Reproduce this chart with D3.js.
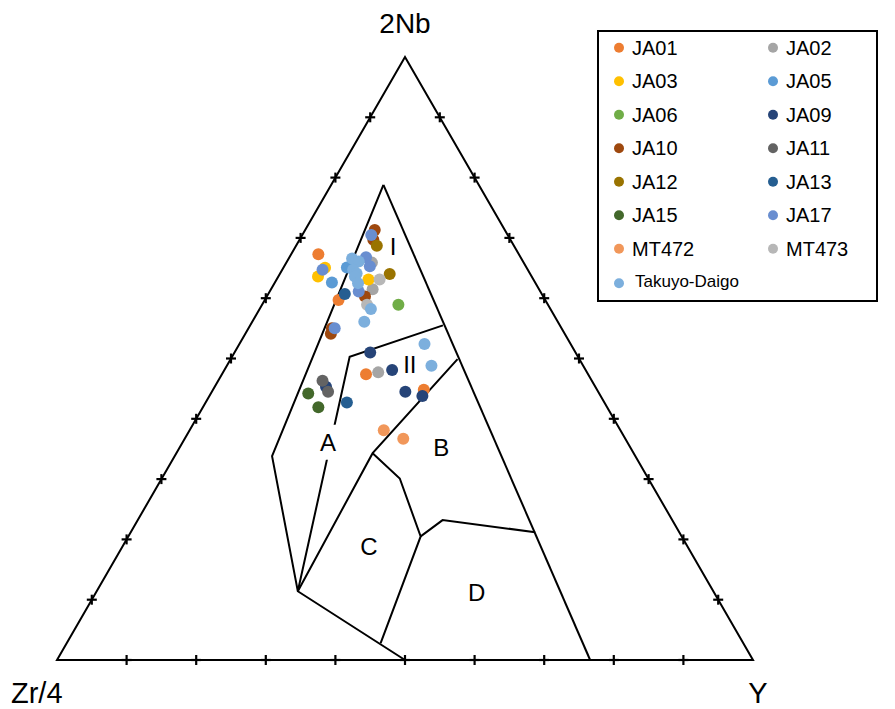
<!DOCTYPE html>
<html>
<head>
<meta charset="utf-8">
<script src="https://cdn.jsdelivr.net/npm/d3@7/dist/d3.min.js"></script>
<style>
  html, body { margin: 0; padding: 0; background: #fff; }
  svg { display: block; }
  text { font-family: "Liberation Sans", Arial, sans-serif; fill: #000; }
</style>
</head>
<body>
<svg id="chart" width="895" height="709"></svg>
<script>
// Meschede (1986) 2Nb – Zr/4 – Y discrimination diagram.
// Every sample is [2Nb, Zr/4, Y] in percent.

const seriesNames = ["JA01", "JA02", "JA03", "JA05", "JA06", "JA09", "JA10", "JA11",
                     "JA12", "JA13", "JA15", "JA17", "MT472", "MT473", "Takuyo-Daigo"];
const seriesColors = ["#ED7D31", "#A5A5A5", "#FFC000", "#5B9BD5", "#70AD47", "#264478", "#9E480E", "#636363",
                      "#997300", "#255E91", "#43682B", "#698ED0", "#F1975A", "#B7B7B7", "#7CAFDD"];

const JA01 = [[67.3, 28.8, 3.9], [59.7, 29.7, 10.6], [47.4, 31.9, 20.7], [44.8, 24.9, 30.3]];
const JA02 = [[65.9, 21.8, 12.3], [61.5, 23.9, 14.6], [47.7, 30.0, 22.3]];
const JA03 = [[65.1, 29.0, 6.0], [63.6, 30.7, 5.7], [63.1, 23.7, 13.2]];
const JA05 = [[62.6, 29.2, 8.2], [65.1, 25.8, 9.1]];
const JA06 = [[58.9, 21.5, 19.6]];
const JA09 = [[51.0, 29.5, 19.5], [48.1, 27.8, 24.1], [45.3, 38.7, 16.0], [44.5, 27.7, 27.8], [43.8, 25.6, 30.6]];
const JA10 = [[71.3, 18.7, 10.0], [69.7, 19.7, 10.6], [60.3, 25.6, 14.1], [55.0, 33.0, 12.0], [54.1, 33.6, 12.3]];
const JA11 = [[46.3, 38.7, 15.0], [44.5, 38.8, 16.7]];
const JA12 = [[68.7, 19.7, 11.6], [64.0, 20.2, 15.8]];
const JA13 = [[60.7, 28.3, 11.0], [42.7, 37.0, 20.3]];
const JA15 = [[44.2, 41.8, 14.0], [41.9, 41.5, 16.6]];
const JA17 = [[70.5, 19.6, 9.9], [66.8, 22.2, 11.0], [65.3, 22.4, 12.3], [64.7, 29.5, 5.8], [61.1, 26.1, 12.8], [55.0, 32.6, 12.4]];
const MT472 = [[38.1, 34.0, 27.9], [36.7, 31.9, 31.4]];
const MT473 = [[63.1, 22.1, 14.8], [58.9, 26.0, 15.1]];
const TakuyoDaigo = [[66.6, 24.3, 9.1], [66.1, 23.6, 10.3], [64.7, 25.1, 10.2], [64.1, 24.9, 11.0],
                     [63.6, 25.4, 11.0], [62.5, 25.5, 12.0], [58.2, 25.8, 16.0], [56.1, 27.8, 16.1],
                     [52.4, 21.0, 26.6], [48.8, 21.8, 29.4]];
const seriesData = [JA01, JA02, JA03, JA05, JA06, JA09, JA10, JA11, JA12, JA13, JA15, JA17, MT472, MT473, TakuyoDaigo];

// Field boundaries (polylines), vertices as [2Nb, Zr/4, Y] percent
const fieldLines = [
  [[78.8, 13.7, 7.5], [33.8, 52.2, 14.0], [11.4, 59.7, 28.9], [0, 50, 50]],
  [[78.8, 13.7, 7.5], [0, 23.4, 76.6]],
  [[55.5, 16.8, 27.7], [50.3, 32.8, 16.9], [11.4, 59.7, 28.9]],
  [[49.9, 17.5, 32.6], [34.3, 37.5, 28.2], [11.4, 59.7, 28.9]],
  [[34.3, 37.5, 28.2], [30.1, 35.7, 34.2], [20.5, 37.5, 42.0], [2.8, 52.1, 45.1]],
  [[20.5, 37.5, 42.0], [23.2, 33.0, 43.8], [21.2, 20.7, 58.1]]
];
// Field labels with their anchor positions [2Nb, Zr/4, Y] (baseline centre)
const fieldLabels = ["I", "II", "A", "B", "C", "D"];
const fieldLabelPos = [[67.2, 18.1, 14.7], [47.6, 25.5, 26.9], [34.7, 43.7, 21.6],
                       [33.8, 27.9, 38.3], [17.4, 46.5, 36.1], [9.8, 34.8, 55.4]];

const tickSteps = [10, 20, 30, 40, 50, 60, 70, 80, 90];
const apexLabels = ["2Nb", "Zr/4", "Y"];

const svg = d3.select("#chart");

// Ternary projection: horizontal position from Y + Nb/2, vertical from Nb
const xScale = d3.scaleLinear().domain([0, 100]).range([57, 753]);
const yScale = d3.scaleLinear().domain([0, 100]).range([660, 57]);
function project(p) {
  const s = p[0] + p[1] + p[2];
  const nb = p[0] / s * 100, yv = p[2] / s * 100;
  return [xScale(yv + nb / 2), yScale(nb)];
}
const line = d3.line().x(d => project(d)[0]).y(d => project(d)[1]);

const g = svg.append("g");

// Outer triangle
g.append("path")
  .attr("d", line([[100, 0, 0], [0, 100, 0], [0, 0, 100]]) + "Z")
  .attr("fill", "none").attr("stroke", "#000").attr("stroke-width", 2)
  .attr("stroke-linejoin", "miter");

// Tick crosses on the three sides
const tickPts = [];
tickSteps.forEach(t => {
  tickPts.push([0, 100 - t, t]);      // base
  tickPts.push([t, 100 - t, 0]);      // left side
  tickPts.push([t, 0, 100 - t]);      // right side
});
const tg = g.append("g").attr("stroke", "#000").attr("stroke-width", 2.2);
tickPts.forEach(p => {
  const [px, py] = project(p);
  tg.append("line").attr("x1", px - 5).attr("x2", px + 5).attr("y1", py).attr("y2", py);
  tg.append("line").attr("x1", px).attr("x2", px).attr("y1", py - 5).attr("y2", py + 5);
});

// Field boundaries
g.append("g").selectAll("path").data(fieldLines).join("path")
  .attr("d", d => line(d))
  .attr("fill", "none").attr("stroke", "#000").attr("stroke-width", 2)
  .attr("stroke-linejoin", "miter");

// Field labels (the A boundary breaks around its letter)
const lg = g.append("g");
fieldLabels.forEach((lab, i) => {
  const [px, py] = project(fieldLabelPos[i]);
  const grp = lg.append("g");
  const bg = grp.append("rect").attr("fill", "#fff");
  const t = grp.append("text").attr("x", px).attr("y", py)
    .attr("text-anchor", "middle").attr("font-size", 24).text(lab);
  if (lab === "A") {
    const bb = t.node().getBBox();
    bg.attr("x", bb.x).attr("y", bb.y - 4).attr("width", bb.width).attr("height", bb.height + 8);
  } else {
    bg.remove();
  }
});

// Samples
const pg = g.append("g");
seriesData.forEach((pts, i) => {
  pg.append("g").selectAll("circle").data(pts).join("circle")
    .attr("cx", d => project(d)[0])
    .attr("cy", d => project(d)[1])
    .attr("r", 6)
    .attr("fill", seriesColors[i]);
});

// Apex labels
svg.append("text").attr("x", 405).attr("y", 33).attr("text-anchor", "middle")
  .attr("font-size", 28).text(apexLabels[0]);
svg.append("text").attr("x", 11).attr("y", 703).attr("text-anchor", "start")
  .attr("font-size", 29).text(apexLabels[1]);
svg.append("text").attr("x", 758).attr("y", 703).attr("text-anchor", "middle")
  .attr("font-size", 29).text(apexLabels[2]);

// Legend
const leg = svg.append("g");
leg.append("rect").attr("x", 598).attr("y", 31).attr("width", 279).attr("height", 270)
  .attr("fill", "#fff").attr("stroke", "#000").attr("stroke-width", 2);
seriesNames.forEach((name, i) => {
  const col = i % 2, row = Math.floor(i / 2);
  const cx = col === 0 ? 619 : 773;
  const cy = 47.7 + row * 33.5;
  const small = name === "Takuyo-Daigo";
  leg.append("circle").attr("cx", cx).attr("cy", cy + (small ? 1 : 0)).attr("r", 5).attr("fill", seriesColors[i]);
  leg.append("text").attr("x", cx + 13 + (small ? 3 : 0)).attr("y", cy + (small ? 5 : 7))
    .attr("font-size", small ? 17 : 20).text(name);
});
</script>
</body>
</html>
